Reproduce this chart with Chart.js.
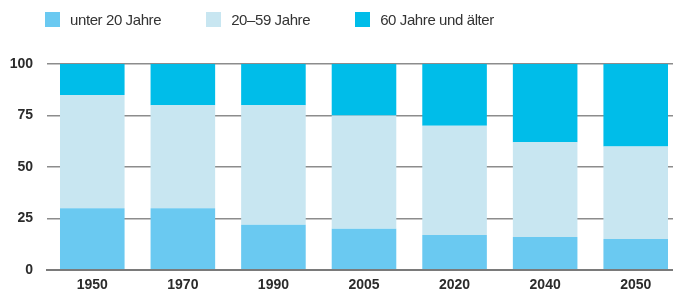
<!DOCTYPE html>
<html>
<head>
<meta charset="utf-8">
<script src="https://cdn.jsdelivr.net/npm/chart.js@4"></script>
<style>
	html, body { margin: 0; padding: 0; background: #fff; overflow: hidden; }
	.wrap { position: relative; width: 681px; height: 295px; }
	.legend { position: absolute; left: 45px; top: 12px; display: flex; gap: 45px; z-index: 2;
		font-family: "Liberation Sans", Arial, sans-serif; font-size: 15px; letter-spacing: -0.4px; color: #333; }
	.legend span { display: flex; align-items: center; line-height: 15px; }
	.legend i { display: inline-block; width: 15px; height: 15px; margin-right: 10px; }
</style>
</head>
<body>
<div class="wrap">
	<div class="legend" id="legend"></div>
	<canvas id="chart"></canvas>
</div>
<script>
// 연도
var years = ['1950', '1970', '1990', '2005', '2020', '2040', '2050'];

// 연령대별 비율(%)
var seriesNames = ['unter 20 Jahre', '20–59 Jahre', '60 Jahre und älter'];
var under20 = [30, 30, 22, 20, 17, 16, 15];
var age20to59 = [55, 50, 58, 55, 53, 46, 45];
var over60 = [15, 20, 20, 25, 30, 38, 40];
var seriesColors = ['#6ac9f1', '#c8e6f1', '#00bde9'];

var yTicks = [0, 25, 50, 75, 100];

// 범례 (HTML)
var legend = document.getElementById('legend');
seriesNames.forEach(function(name, i){
	var item = document.createElement('span');
	item.innerHTML = '<i style="background:' + seriesColors[i] + '"></i>' + name;
	legend.appendChild(item);
});

var values = [under20, age20to59, over60];
var datasets = values.map(function(data, i){
	return {
		label: seriesNames[i],
		data: data,
		backgroundColor: seriesColors[i],
		borderWidth: 0,
		barPercentage: 0.713,
		categoryPercentage: 1
	};
});

var tickFont = { family: '"Liberation Sans", Arial, sans-serif', size: 14, weight: 'bold' };

new Chart(document.getElementById('chart'), {
	type: 'bar',
	data: { labels: years, datasets: datasets },
	options: {
		responsive: true,
		maintainAspectRatio: false,
		animation: false,
		layout: { padding: { top: 64, left: 0, right: 0, bottom: 0 } },
		plugins: {
			legend: { display: false },
			tooltip: { enabled: false }
		},
		scales: {
			x: {
				stacked: true,
				grid: { display: false, drawTicks: false },
				border: { display: true, color: '#7a7a7a', width: 2, z: 1 },
				ticks: { color: '#2b2b2b', font: tickFont, padding: 7 },
				afterFit: function(scale){ scale.height = 25; }
			},
			y: {
				stacked: true,
				min: 0,
				max: 100,
				afterBuildTicks: function(scale){
					scale.ticks = yTicks.map(function(v){ return { value: v }; });
				},
				grid: { color: '#8c8c8c', lineWidth: 1.5, drawTicks: false },
				border: { display: false },
				ticks: { color: '#2b2b2b', font: tickFont, padding: 14 },
				afterFit: function(scale){ scale.width = 47; }
			}
		}
	}
});
</script>
</body>
</html>
